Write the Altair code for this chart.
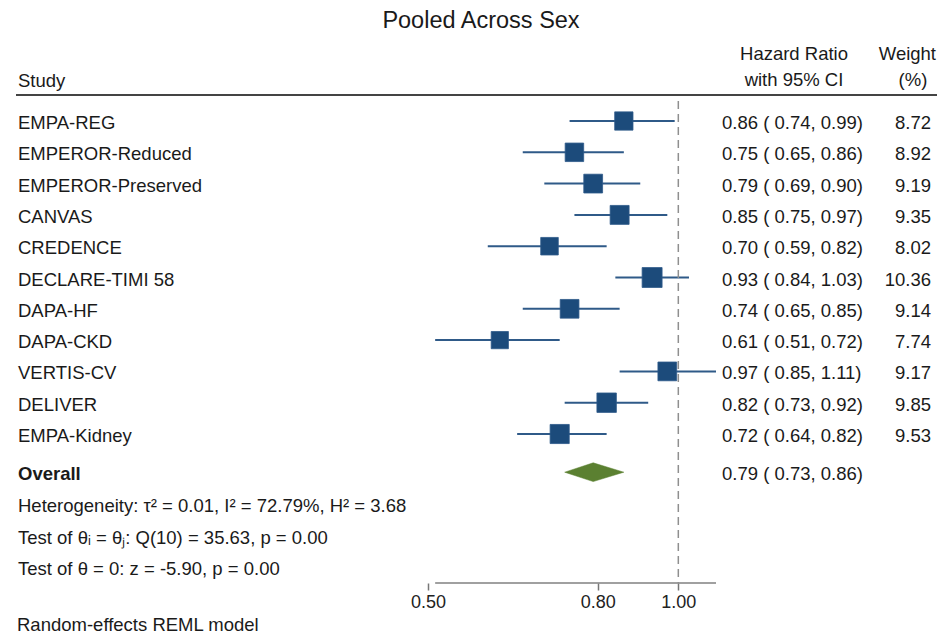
import altair as alt
import pandas as pd

# ---------------- data ----------------
studies = ["EMPA-REG", "EMPEROR-Reduced", "EMPEROR-Preserved", "CANVAS", "CREDENCE",
           "DECLARE-TIMI 58", "DAPA-HF", "DAPA-CKD", "VERTIS-CV", "DELIVER", "EMPA-Kidney"]
hr = [0.86, 0.75, 0.79, 0.85, 0.70, 0.93, 0.74, 0.61, 0.97, 0.82, 0.72]
ci_low = [0.74, 0.65, 0.69, 0.75, 0.59, 0.84, 0.65, 0.51, 0.85, 0.73, 0.64]
ci_high = [0.99, 0.86, 0.90, 0.97, 0.82, 1.03, 0.85, 0.72, 1.11, 0.92, 0.82]
weights = [8.72, 8.92, 9.19, 9.35, 8.02, 10.36, 9.14, 7.74, 9.17, 9.85, 9.53]
overall_est = 0.79
overall_low = 0.73
overall_high = 0.86
null_value = 1.0
tick_values = [0.50, 0.80, 1.00]
stat_lines = [
    "Heterogeneity: \u03c4\u00b2 = 0.01, I\u00b2 = 72.79%, H\u00b2 = 3.68",
    "Test of \u03b8\u1d62 = \u03b8\u2c7c: Q(10) = 35.63, p = 0.00",
    "Test of \u03b8 = 0: z = -5.90, p = 0.00",
]
footnote = "Random-effects REML model"
title_text = "Pooled Across Sex"

# ---------------- layout ----------------
FONT = "Liberation Sans"
FS = 18.5
W, H = 288, 486
overall_row = 11.22
stat_rows = [12.24, 13.26, 14.25]
foot_row = 16.05
diamond_half = 0.3

SQ_COLOR = "#1c4b7b"
CI_COLOR = "#2f5a88"
DIAMOND_COLOR = "#5b8031"

rows = list(range(len(studies)))
df = pd.DataFrame({
    "study": studies, "hr": hr, "lo": ci_low, "hi": ci_high,
    "weight": weights, "row": rows,
})
df["label"] = [f"{a:.2f} ( {b:.2f},  {c:.2f})" for a, b, c in zip(hr, ci_low, ci_high)]
df["wlabel"] = [f"{w:.2f}" for w in weights]

xscale = alt.Scale(type="log", domain=[0.5, 1.11], nice=False)
yscale = alt.Scale(domain=[-0.767, 14.76], reverse=True, nice=False, zero=False)
xaxis = alt.Axis(values=tick_values, format=".2f", title=None, domain=False, grid=False,
                 tickSize=7, tickColor="#777777", tickWidth=1.5, labelFontSize=18,
                 labelFont=FONT, labelColor="#222222", labelPadding=3, labelFlush=False,
                 labelOverlap=False)
Y = lambda f: alt.Y(f, type="quantitative", scale=yscale, axis=None)
X = lambda f: alt.X(f, type="quantitative", scale=xscale, axis=xaxis)

base = alt.Chart(df)

ci = base.mark_rule(color=CI_COLOR, strokeWidth=2).encode(
    x=X("lo"), x2="hi", y=Y("row"))

squares = base.mark_square(filled=True, opacity=1, color=SQ_COLOR,
                           stroke="#2e5b8a", strokeWidth=0.8).encode(
    x=X("hr"), y=Y("row"),
    size=alt.Size("weight:Q", scale=alt.Scale(domain=[0, 12], range=[0, 461]), legend=None))

txt = dict(font=FONT, fontSize=FS, color="#1a1a1a", baseline="alphabetic", dy=8)

study_text = base.mark_text(align="left", **txt).encode(
    x=alt.value(-410), y=Y("row"), text="study:N")
hr_text = base.mark_text(align="left", **txt).encode(
    x=alt.value(294), y=Y("row"), text="label:N")
w_text = base.mark_text(align="right", **txt).encode(
    x=alt.value(503), y=Y("row"), text="wlabel:N")

# overall
ov_df = pd.DataFrame({"row": [overall_row], "name": ["Overall"],
                      "label": [f"{overall_est:.2f} ( {overall_low:.2f},  {overall_high:.2f})"]})
ov_name = alt.Chart(ov_df).mark_text(align="left", fontWeight="bold", **txt).encode(
    x=alt.value(-410), y=Y("row"), text="name:N")
ov_label = alt.Chart(ov_df).mark_text(align="left", **txt).encode(
    x=alt.value(294), y=Y("row"), text="label:N")

dia_df = pd.DataFrame({
    "x": [overall_low, overall_est, overall_high],
    "y": [overall_row, overall_row - diamond_half, overall_row],
    "y2": [overall_row, overall_row + diamond_half, overall_row],
})
diamond = alt.Chart(dia_df).mark_area(orient="vertical", color=DIAMOND_COLOR, opacity=1,
                                      stroke=DIAMOND_COLOR, strokeWidth=0.5).encode(
    x=X("x"), y=Y("y"), y2="y2")

stat_df = pd.DataFrame({"row": stat_rows, "text": stat_lines})
stats = alt.Chart(stat_df).mark_text(align="left", **txt).encode(
    x=alt.value(-410), y=Y("row"), text="text:N")

foot_df = pd.DataFrame({"row": [foot_row], "text": [footnote]})
foot = alt.Chart(foot_df).mark_text(align="left", **txt).encode(
    x=alt.value(-411), y=Y("row"), text="text:N")

# axis line spanning CI range
axis_df = pd.DataFrame({"a": [min(ci_low)], "b": [max(ci_high)]})
axis_line = alt.Chart(axis_df).mark_rule(color="#808080", strokeWidth=1.5).encode(
    x=X("a"), x2="b", y=alt.value(H))

# null reference line
ref_df = pd.DataFrame({"v": [null_value]})
ref = alt.Chart(ref_df).mark_rule(color="#8f8f8f", strokeWidth=1.5, strokeDash=[8, 5]).encode(
    x=X("v"), y=alt.value(4), y2=alt.value(H))

# header elements
one = pd.DataFrame({"k": [0]})
def label(text, x, y, align="left", size=FS):
    return alt.Chart(one).mark_text(text=text, align=align, baseline="alphabetic",
                                    font=FONT, fontSize=size, color="#1a1a1a").encode(
        x=alt.value(x), y=alt.value(y))

header_rule = alt.Chart(one).mark_rule(color="#444444", strokeWidth=2).encode(
    x=alt.value(-412), x2=alt.value(509), y=alt.value(-2))

headers = [
    label(title_text, 53, -69, align="center", size=23.5),
    label("Study", -410, -10),
    label("Hazard Ratio", 366, -37, align="center"),
    label("with 95% CI", 366, -11, align="center"),
    label("Weight", 508, -37, align="right"),
    label("(%)", 485, -11, align="center"),
]

chart = alt.layer(
    ci, axis_line, ref, squares, diamond, study_text, hr_text, w_text,
    ov_name, ov_label, stats, foot, header_rule, *headers
).properties(
    width=W, height=H,
    autosize=alt.AutoSizeParams(type="none"),
    padding={"left": 420, "top": 89, "right": 221, "bottom": 51},
    background="white",
).configure_view(stroke=None)

chart.save("out.html", embed_options={"renderer": "svg", "actions": False})
